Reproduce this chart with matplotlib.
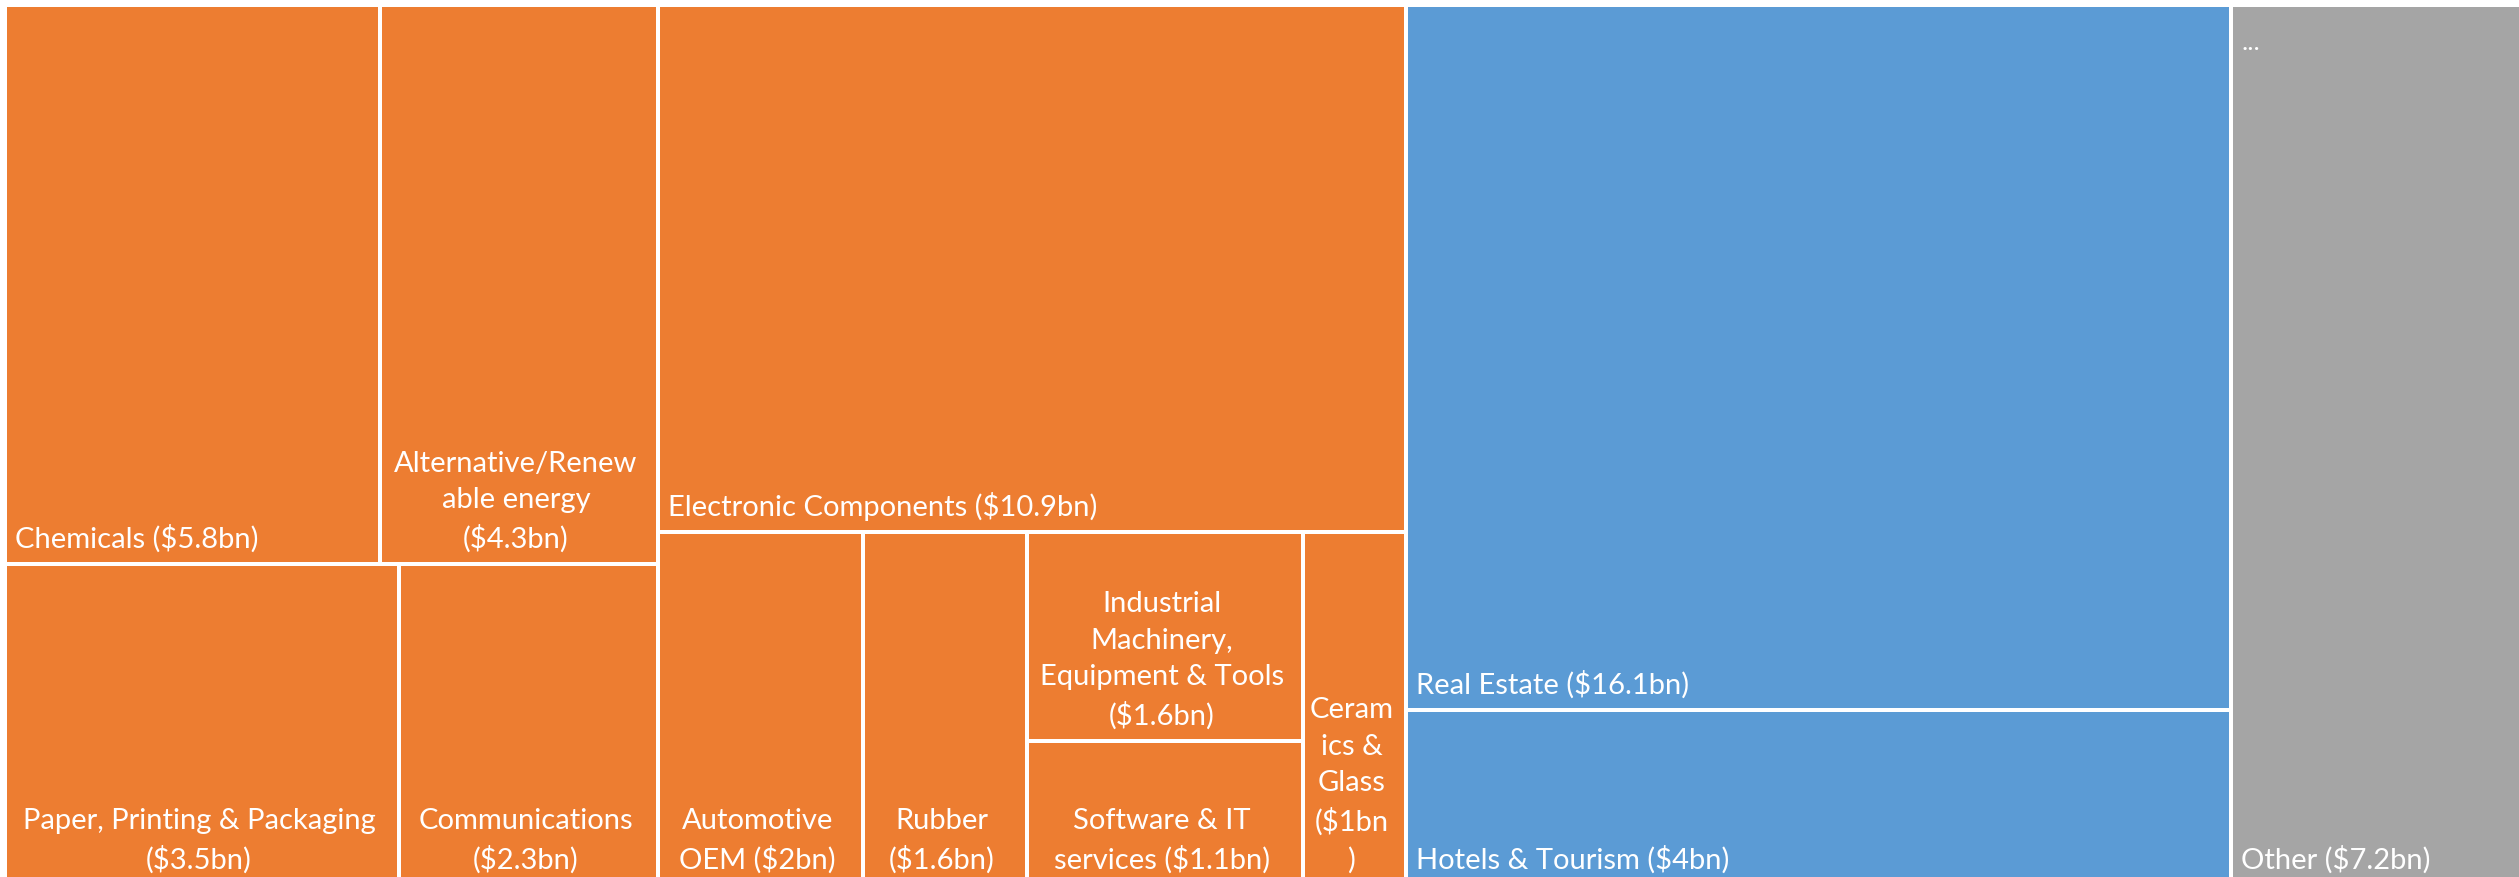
import matplotlib
matplotlib.use("Agg")
import matplotlib.pyplot as plt
from matplotlib.patches import Rectangle

################################################################################
## Data (labels wrapped as in the reference)

names = [
    "Chemicals ($5.8bn)",
    "Alternative/Renew\nable energy\n($4.3bn)",
    "Paper, Printing & Packaging\n($3.5bn)",
    "Communications\n($2.3bn)",
    "Electronic Components ($10.9bn)",
    "Automotive\nOEM ($2bn)",
    "Rubber\n($1.6bn)",
    "Industrial\nMachinery,\nEquipment & Tools\n($1.6bn)",
    "Software & IT\nservices ($1.1bn)",
    "Ceram\nics &\nGlass\n($1bn\n)",
    "Real Estate ($16.1bn)",
    "Hotels & Tourism ($4bn)",
    "Other ($7.2bn)",
]
values = [5.8, 4.3, 3.5, 2.3, 10.9, 2.0, 1.6, 1.6, 1.1, 1.0, 16.1, 4.0, 7.2]
groups = [0, 0, 0, 0, 0, 0, 0, 0, 0, 0, 1, 1, 2]
group_colors = ["#ED7D31", "#5B9BD5", "#A5A5A5"]

# Excel's split structure: "h" = side by side, "v" = stacked
layout = (
    "h",
    [
        (
            "h",
            [
                ("v", [("h", [0, 1]), ("h", [2, 3])]),
                ("v", [4, ("h", [5, 6, ("v", [7, 8]), 9])]),
            ],
        ),
        ("v", [10, 11]),
        12,
    ],
)

################################################################################
## Layout helpers


def node_total(node):
    if isinstance(node, int):
        return values[node]
    return sum(node_total(k) for k in node[1])


def place(node, x0, y0, x1, y1, out):
    if isinstance(node, int):
        out[node] = (x0, y0, x1, y1)
        return
    kind, kids = node
    tot = node_total(node)
    pos = x0 if kind == "h" else y0
    for k in kids:
        frac = node_total(k) / tot
        if kind == "h":
            w = (x1 - x0) * frac
            place(k, pos, y0, pos + w, y1, out)
            pos += w
        else:
            h = (y1 - y0) * frac
            place(k, x0, pos, x1, pos + h, out)
            pos += h


################################################################################
## Plot

W, H = 2519, 877
DPI = 100
PX = 72 / DPI  # points per pixel

fig = plt.figure(figsize=(W / DPI, H / DPI), dpi=DPI)
fig.patch.set_facecolor("white")
# chart area runs a little past the right and bottom edges, like the crop
ax = fig.add_axes([5 / W, -8 / H, 2522 / W, 880 / H])
ax.set_xlim(0, 1)
ax.set_ylim(1, 0)
ax.axis("off")

rects = {}
place(layout, 0, 0, 1, 1, rects)

font = "Lato"
fs = 21
for i, name in enumerate(names):
    x0, y0, x1, y1 = rects[i]
    ax.add_patch(
        Rectangle(
            (x0, y0),
            x1 - x0,
            y1 - y0,
            facecolor=group_colors[groups[i]],
            edgecolor="white",
            lw=4 * PX,
            clip_on=False,
        )
    )
    if "\n" in name:
        ax.annotate(
            name,
            xy=((x0 + x1) / 2, y1),
            xytext=(-3 * PX, 11 * PX),
            textcoords="offset points",
            ha="center",
            va="bottom",
            multialignment="center",
            linespacing=1.5,
            color="white",
            fontsize=fs,
            family=font,
            annotation_clip=False,
        )
    else:
        ax.annotate(
            name,
            xy=(x0, y1),
            xytext=(10 * PX, 11 * PX),
            textcoords="offset points",
            ha="left",
            va="bottom",
            color="white",
            fontsize=fs,
            family=font,
            annotation_clip=False,
        )

# truncated group header in the "Other" block
x0, y0, x1, y1 = rects[12]
ax.annotate(
    "...",
    xy=(x0, y0),
    xytext=(10 * PX, -45 * PX),
    textcoords="offset points",
    ha="left",
    va="baseline",
    color="white",
    fontsize=19,
    family=font,
)

fig.savefig("out.png", dpi=DPI)
